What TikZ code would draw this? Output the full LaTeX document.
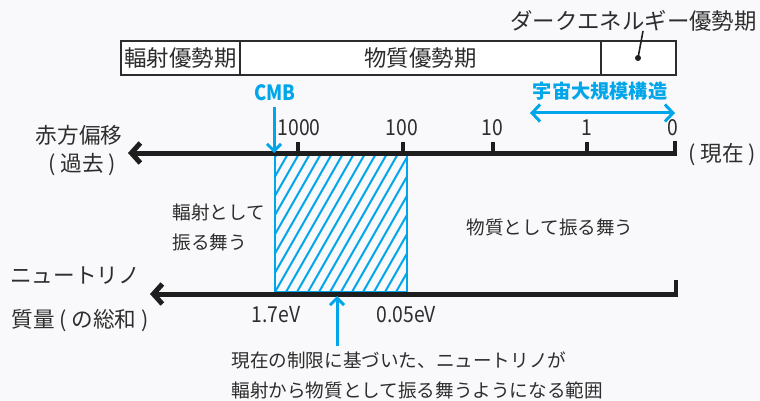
\documentclass[tikz,border=0pt]{standalone}
\usepackage{fontspec}
\setmainfont{Noto Sans CJK JP}
\newfontfamily\numfont[FakeStretch=0.88]{Noto Sans CJK JP}
\usetikzlibrary{arrows.meta}
\definecolor{bg}{RGB}{249,249,251}
\definecolor{cyanb}{RGB}{0,166,233}
\definecolor{ink}{RGB}{45,45,45}
\definecolor{axis}{RGB}{30,30,30}
\begin{document}
\begin{tikzpicture}[x=0.5pt,y=-0.5pt,
  lbl/.style={inner sep=0pt, text=ink, font=\fontsize{11.2}{13}\selectfont},
  side/.style={inner sep=0pt, text=ink, font=\fontsize{10.8}{13}\selectfont},
  small/.style={inner sep=0pt, text=ink, font=\fontsize{9.3}{11}\selectfont},
  num/.style={inner sep=0pt, text=ink, font=\numfont\fontsize{11}{13}\selectfont},
  bluelbl/.style={inner sep=0pt, text=cyanb, font=\bfseries\fontsize{9.6}{11}\selectfont},
  boxline/.style={draw=ink, line width=0.8pt},
  axisline/.style={draw=axis, line width=2.5pt, -{Straight Barb[length=4.5pt,width=10pt]}},
  tickline/.style={draw=axis, line width=2pt},
  bluearrow/.style={draw=cyanb, line width=1.5pt, -{Straight Barb[length=3.5pt,width=7pt]}},
  bluedouble/.style={draw=cyanb, line width=1.5pt, {Straight Barb[length=4pt,width=8.5pt]}-{Straight Barb[length=4pt,width=8.5pt]}}
]
\fill[bg] (0,0) rectangle (760,401);
\useasboundingbox (0,0) rectangle (760,401);

% era box
\fill[white] (121,41) rectangle (676,75);
\draw[boxline] (121,41) rectangle (676,75);
\draw[boxline] (240,41) -- (240,75);
\draw[boxline] (601,41) -- (601,75);
\node[lbl] (rad) at (180.5,58) {輻射優勢期};
\node[lbl] (mat) at (420.5,58) {物質優勢期};
\node[lbl, anchor=east] (de) at (757,21) {ダークエネルギー優勢期};
\fill[axis] (638,58) circle (3);
\coordinate (dedot) at (638,58);
\coordinate (detop) at (643,31);
\draw[axis, line width=0.8pt] (dedot) -- (detop);

% hatched range
\begin{scope}
\clip (275,155) rectangle (407,292);
\foreach \i in {-8,...,13}
  \draw[cyanb, line width=1pt] ({275+\i*11},292) -- ++(80,-140);
\end{scope}
\draw[cyanb, line width=1pt] (275,155) rectangle (407,292);

% top axis
\coordinate (tR) at (675,153);
\coordinate (tL) at (128,153);
\draw[axisline] (tR) -- (tL);
\draw[tickline] (675,141) -- (675,155.5);
\foreach \x/\n in {298/1000,403/100,493/10,587/1}
  \draw[tickline] (\x,142) -- (\x,153);
\node[num] (n1000) at (299,128) {1000};
\node[num] (n100) at (402,128) {100};
\node[num] (n10) at (492,128) {10};
\node[num] (n1) at (587,128) {1};
\node[num] (n0) at (673,128) {0};
\node[side] (z1) at (79,135) {赤方偏移};
\node[side] (z2) at (82,165) {( 過去 )};
\node[side] (now) at (722,155) {( 現在 )};

% CMB
\node[bluelbl, font=\bfseries\numfont\fontsize{10.5}{12}\selectfont] (cmb) at (275,93) {CMB};
\coordinate (cmbT) at (274,107);
\coordinate (cmbB) at (274,153);
\draw[bluearrow] (cmbT) -- (cmbB);

% large scale structure
\node[bluelbl] (lss) at (600,91) {宇宙大規模構造};
\coordinate (lssL) at (530,113);
\coordinate (lssR) at (675,113);
\draw[bluedouble] (lssL) -- (lssR);

% middle labels
\node[small, anchor=west] (r1) at (172,212) {輻射として};
\node[small, anchor=west] (r2) at (172,242) {振る舞う};
\node[small] (m1) at (550,227) {物質として振る舞う};

% bottom axis
\coordinate (bR) at (676,294);
\coordinate (bL) at (150,294);
\draw[axisline] (bR) -- (bL);
\draw[tickline] (676,280) -- (676,296.5);
\node[side] (nu1) at (75,276) {ニュートリノ};
\node[side] (nu2) at (80,321) {質量 ( の総和 )};
\node[num] (e1) at (276,315) {1.7eV};
\node[num] (e2) at (406,315) {0.05eV};

% bottom pointer
\coordinate (pB) at (337,346);
\coordinate (pT) at (337,296);
\draw[bluearrow] (pB) -- (pT);
\node[small, anchor=west] (t1) at (231,360) {現在の制限に基づいた、ニュートリノが};
\node[small, anchor=west] (t2) at (231,390) {輻射から物質として振る舞うようになる範囲};
\end{tikzpicture}
\end{document}
